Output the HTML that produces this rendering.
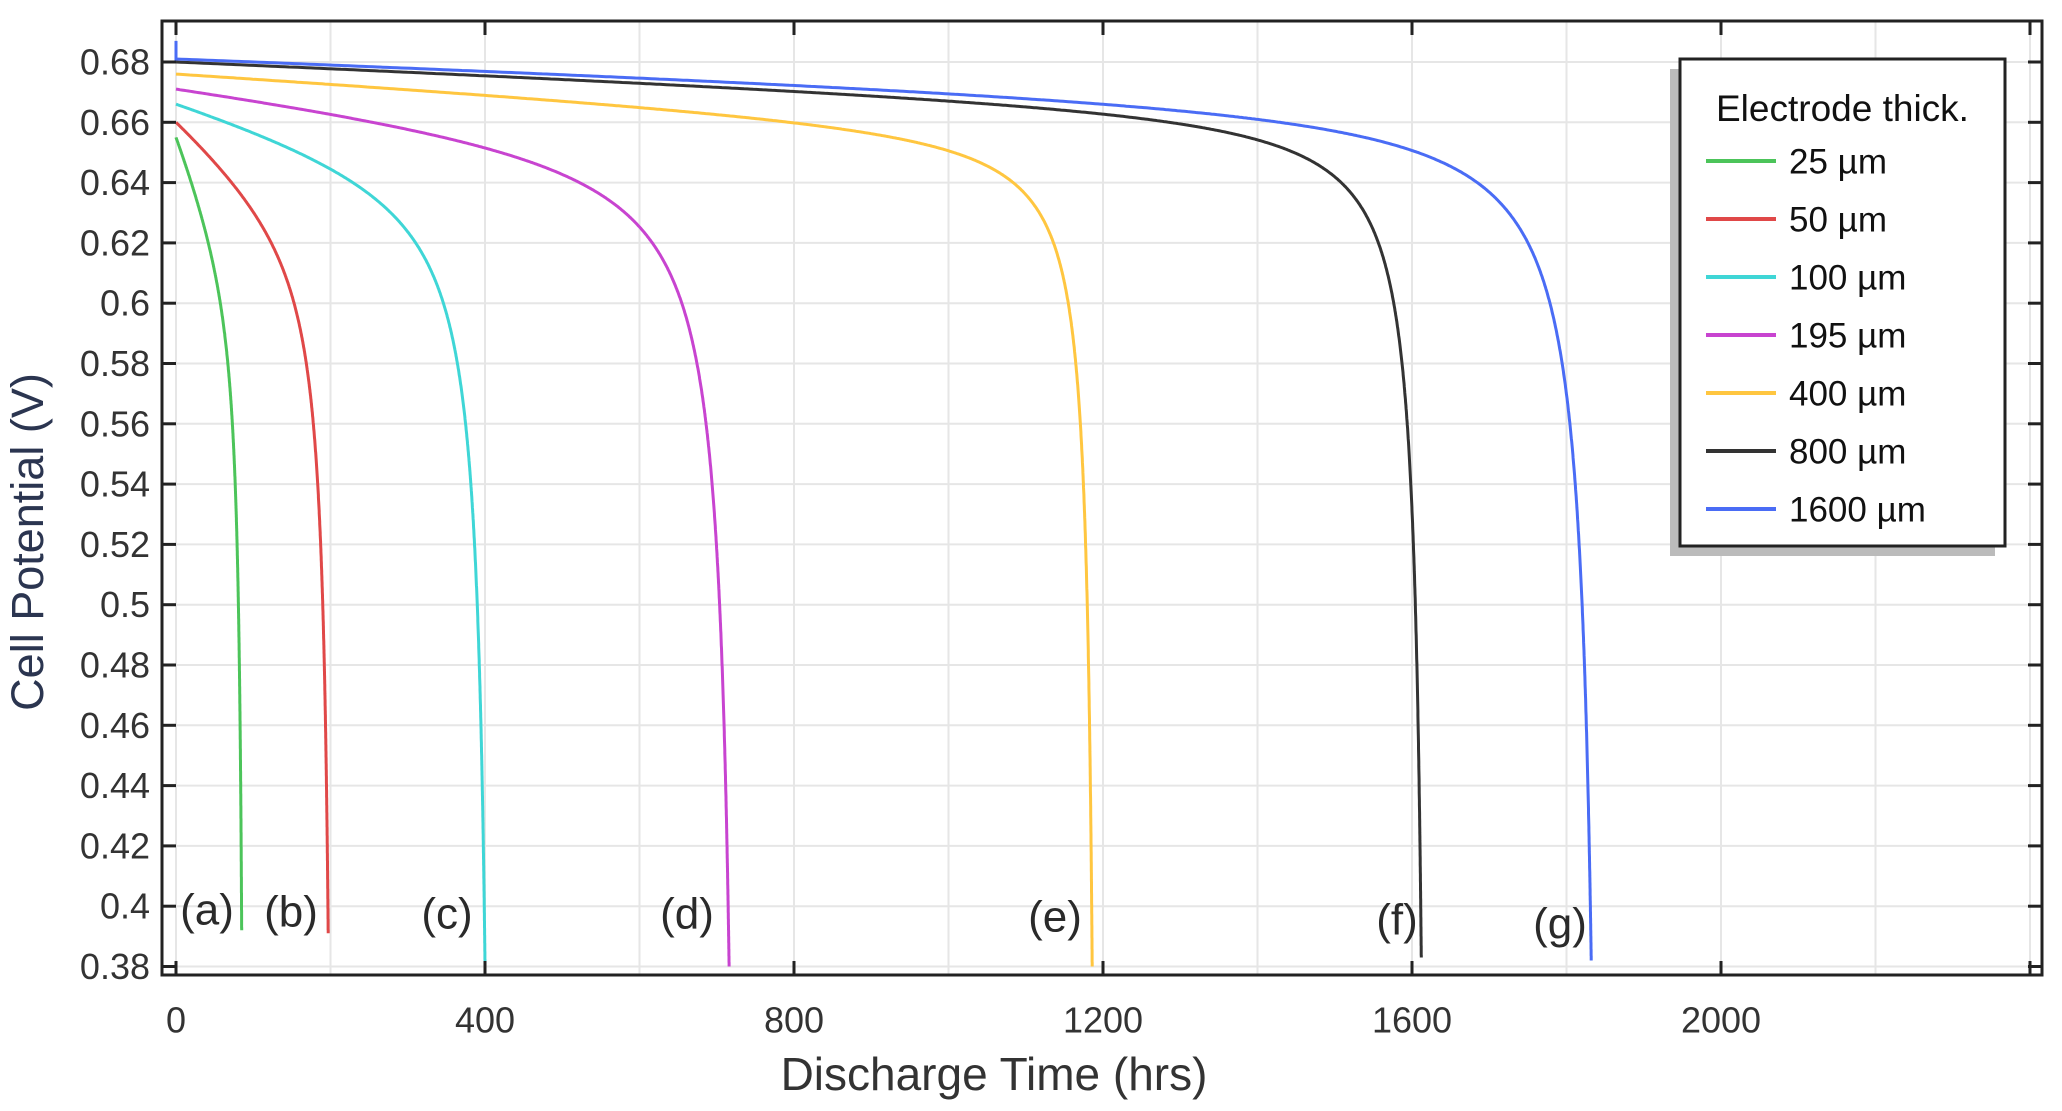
<!DOCTYPE html>
<html><head><meta charset="utf-8"><style>
html,body{margin:0;padding:0;background:#fff;}
svg{display:block;font-family:"Liberation Sans",sans-serif;}
</style></head><body>
<svg id="s" width="2062" height="1111" viewBox="0 0 2062 1111" xmlns="http://www.w3.org/2000/svg">
<g id="grid" stroke="#e6e6e6" stroke-width="2"></g>
<g id="curves" fill="none" stroke-width="3"></g>
<rect x="162" y="21" width="1880" height="954" fill="none" stroke="#222" stroke-width="3"/>
<g id="ticks" stroke="#222" stroke-width="3"></g>
<g id="labels" font-size="36" fill="#333"></g>
<g font-size="44" fill="#2a2a2a" text-anchor="middle" dominant-baseline="central">
<text x="207" y="910">(a)</text><text x="291" y="912">(b)</text><text x="447" y="914">(c)</text>
<text x="687" y="914">(d)</text><text x="1055" y="917">(e)</text><text x="1397" y="920">(f)</text><text x="1560" y="924">(g)</text>
</g>
<text x="994" y="1090" font-size="46" fill="#333" text-anchor="middle">Discharge Time (hrs)</text>
<text transform="translate(43,542) rotate(-90)" font-size="45" fill="#2b3550" text-anchor="middle">Cell Potential (V)</text>
<rect x="1670" y="69" width="325" height="487" fill="#bbb"/>
<rect x="1680" y="59" width="325" height="487" fill="#fff" stroke="#222" stroke-width="3"/>
<text x="1716" y="121" font-size="37" fill="#111">Electrode thick.</text>
<g id="leg" font-size="35" fill="#111"></g>
</svg>
<script>
const NS="http://www.w3.org/2000/svg";
function el(p,t,a,txt){const e=document.createElementNS(NS,t);for(const k in a)e.setAttribute(k,a[k]);if(txt!==undefined)e.textContent=txt;document.getElementById(p).appendChild(e);return e;}
const X=t=>176+t*0.7725, Y=v=>62+(0.68-v)/0.02*60.3;
for(let t=0;t<=2400;t+=200) el("grid","line",{x1:X(t),x2:X(t),y1:21,y2:975});
for(let i=0;i<=15;i++){const v=0.68-i*0.02;const y=Y(v);el("grid","line",{x1:162,x2:2042,y1:y,y2:y});
 el("ticks","line",{x1:162,x2:176,y1:y,y2:y});el("ticks","line",{x1:2028,x2:2042,y1:y,y2:y});
 el("labels","text",{x:150,y:y,"text-anchor":"end","dominant-baseline":"central"},(Math.round(v*100)/100).toString());}
for(let t=0;t<=2400;t+=400){const x=X(t);el("ticks","line",{x1:x,x2:x,y1:961,y2:975});el("ticks","line",{x1:x,x2:x,y1:21,y2:35});
 if(t<2400)el("labels","text",{x:x,y:1020,"text-anchor":"middle","dominant-baseline":"central"},String(t));}
const C=[
 ["#4cc45a",85,0.655,0.392,0.05,0.012,"25"],
 ["#e04848",197,0.660,0.391,0.04,0.01,"50"],
 ["#3fd6d6",400,0.666,0.381,0.028,0.008,"100"],
 ["#c844d0",716,0.671,0.380,0.022,0.006,"195"],
 ["#ffc640",1186,0.676,0.380,0.018,0.002,"400"],
 ["#333333",1612,0.680,0.383,0.016,0.0019,"800"],
 ["#4a6cf5",1832,0.681,0.382,0.0156,0.0026,"1600"]];
C.forEach((c,k)=>{const [col,T,V0,Ve,A,B]=c;const D=V0-Ve;const d=B/(D-A);let pts=[];
 if(k==6)pts.push(X(0)+","+Y(0.687));
 const N=800;for(let i=0;i<=N;i++){const u=1-Math.pow(1-i/N,3);const v=V0-A*u-B*u/(1-u+d);pts.push(X(u*T).toFixed(1)+","+Y(v).toFixed(1));}
 el("curves","polyline",{points:pts.join(" "),stroke:col});
 const y=161+k*58;el("leg","line",{x1:1706,x2:1776,y1:y,y2:y,stroke:col,"stroke-width":4});
 el("leg","text",{x:1789,y:y+1,"dominant-baseline":"central"},c[6]+" \u00b5m");});
</script>
</body></html>
